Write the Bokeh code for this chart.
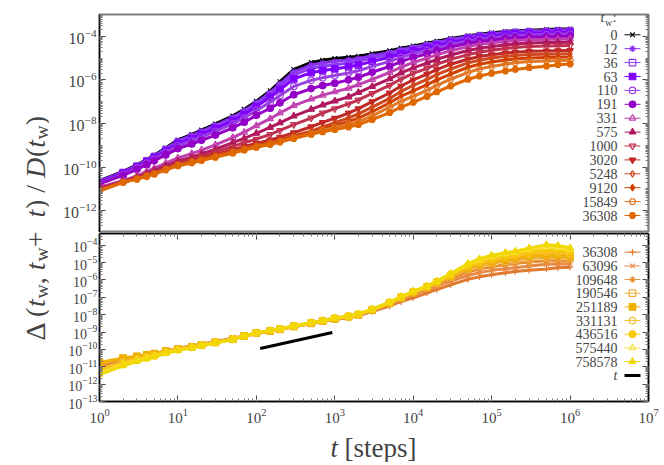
from bokeh.plotting import figure
from bokeh.models import (Range1d, LinearScale, LogAxis, FixedTicker, LogTickFormatter,
                          CustomJSTickFormatter, Label)
from bokeh.layouts import row, column
from bokeh.embed import file_html
from bokeh.resources import INLINE

# ---------------- data: log10 of Delta(tw, tw+t) / D(tw) ----------------
t_steps = [1, 2, 3, 4, 5, 7, 10, 15, 20, 30, 50, 70, 100, 150, 200, 300, 500, 700,
           1e3, 1.5e3, 2e3, 3e3, 5e3, 7e3, 1e4, 1.5e4, 2e4, 3e4, 5e4, 7e4,
           1e5, 1.5e5, 2e5, 3e5, 5e5, 7e5, 1e6]

top_tw_labels = ["0", "12", "36", "63", "110", "191", "331", "575", "1000",
                 "3020", "5248", "9120", "15849", "36308"]
top_tw0 = [-10.62, -10.20, -9.90, -9.65, -9.45, -9.12, -8.75, -8.50, -8.30, -8.02, -7.65, -7.35, -6.98, -6.50, -6.08, -5.52, -5.20, -5.10, -5.02, -4.96, -4.91, -4.80, -4.66, -4.55, -4.44, -4.32, -4.23, -4.10, -3.97, -3.90, -3.84, -3.78, -3.75, -3.72, -3.69, -3.67, -3.66]
top_tw12 = [-10.64, -10.22, -9.93, -9.68, -9.48, -9.16, -8.80, -8.55, -8.36, -8.08, -7.72, -7.42, -7.05, -6.58, -6.18, -5.63, -5.32, -5.22, -5.15, -5.08, -5.02, -4.89, -4.74, -4.62, -4.50, -4.38, -4.28, -4.15, -4.01, -3.94, -3.88, -3.82, -3.78, -3.75, -3.73, -3.71, -3.70]
top_tw36 = [-10.66, -10.25, -9.96, -9.72, -9.52, -9.21, -8.86, -8.62, -8.43, -8.15, -7.80, -7.50, -7.13, -6.68, -6.30, -5.77, -5.47, -5.37, -5.30, -5.22, -5.15, -5.00, -4.84, -4.71, -4.58, -4.45, -4.35, -4.21, -4.07, -4.00, -3.93, -3.87, -3.83, -3.80, -3.78, -3.77, -3.76]
top_tw63 = [-10.68, -10.28, -9.99, -9.76, -9.56, -9.26, -8.92, -8.69, -8.50, -8.23, -7.88, -7.59, -7.22, -6.80, -6.45, -5.95, -5.67, -5.57, -5.50, -5.40, -5.32, -5.15, -4.96, -4.81, -4.67, -4.53, -4.43, -4.28, -4.13, -4.06, -3.99, -3.93, -3.89, -3.86, -3.84, -3.83, -3.82]
top_tw110 = [-10.72, -10.33, -10.04, -9.82, -9.63, -9.34, -9.02, -8.80, -8.62, -8.36, -8.02, -7.74, -7.40, -7.02, -6.72, -6.30, -6.02, -5.90, -5.80, -5.68, -5.58, -5.38, -5.15, -4.97, -4.80, -4.65, -4.53, -4.37, -4.21, -4.13, -4.07, -4.01, -3.97, -3.94, -3.92, -3.91, -3.90]
top_tw191 = [-10.77, -10.38, -10.10, -9.89, -9.71, -9.44, -9.15, -8.94, -8.77, -8.53, -8.20, -7.94, -7.62, -7.30, -7.05, -6.68, -6.40, -6.26, -6.15, -6.00, -5.88, -5.65, -5.38, -5.16, -4.97, -4.80, -4.66, -4.49, -4.32, -4.24, -4.17, -4.11, -4.07, -4.04, -4.02, -4.01, -4.00]
top_tw331 = [-10.92, -10.62, -10.40, -10.20, -10.05, -9.82, -9.58, -9.38, -9.22, -8.98, -8.65, -8.40, -8.10, -7.78, -7.52, -7.18, -6.88, -6.70, -6.55, -6.38, -6.22, -5.98, -5.66, -5.42, -5.20, -5.00, -4.85, -4.66, -4.47, -4.37, -4.30, -4.24, -4.19, -4.16, -4.14, -4.13, -4.12]
top_tw575 = [-10.98, -10.66, -10.46, -10.29, -10.15, -9.94, -9.72, -9.54, -9.40, -9.18, -8.88, -8.68, -8.45, -8.18, -7.97, -7.66, -7.35, -7.15, -6.97, -6.78, -6.58, -6.30, -5.95, -5.68, -5.45, -5.23, -5.06, -4.86, -4.65, -4.55, -4.47, -4.40, -4.35, -4.31, -4.29, -4.28, -4.27]
top_tw1000 = [-11.00, -10.68, -10.50, -10.34, -10.22, -10.02, -9.82, -9.64, -9.50, -9.30, -9.05, -8.88, -8.72, -8.50, -8.32, -8.05, -7.75, -7.52, -7.32, -7.10, -6.92, -6.62, -6.25, -5.96, -5.70, -5.47, -5.29, -5.06, -4.84, -4.73, -4.64, -4.56, -4.51, -4.47, -4.45, -4.43, -4.42]
top_tw3020 = [-11.03, -10.68, -10.52, -10.38, -10.27, -10.08, -9.87, -9.71, -9.59, -9.42, -9.20, -9.05, -8.92, -8.76, -8.63, -8.42, -8.15, -7.95, -7.76, -7.52, -7.32, -7.00, -6.60, -6.28, -6.00, -5.74, -5.53, -5.28, -5.05, -4.93, -4.85, -4.77, -4.73, -4.69, -4.67, -4.66, -4.65]
top_tw5248 = [-11.05, -10.69, -10.53, -10.40, -10.29, -10.10, -9.89, -9.74, -9.63, -9.47, -9.28, -9.13, -9.00, -8.86, -8.75, -8.56, -8.35, -8.16, -7.96, -7.74, -7.56, -7.25, -6.85, -6.53, -6.25, -5.98, -5.76, -5.50, -5.22, -5.10, -5.00, -4.92, -4.88, -4.84, -4.82, -4.81, -4.80]
top_tw9120 = [-11.07, -10.69, -10.54, -10.41, -10.30, -10.11, -9.91, -9.77, -9.66, -9.51, -9.32, -9.17, -9.04, -8.91, -8.80, -8.62, -8.43, -8.26, -8.09, -7.90, -7.75, -7.46, -7.05, -6.75, -6.50, -6.22, -6.00, -5.73, -5.42, -5.28, -5.18, -5.09, -5.04, -5.00, -4.97, -4.96, -4.95]
top_tw15849 = [-11.08, -10.70, -10.55, -10.42, -10.31, -10.12, -9.92, -9.79, -9.68, -9.53, -9.34, -9.20, -9.07, -8.94, -8.83, -8.66, -8.47, -8.32, -8.18, -8.03, -7.92, -7.65, -7.25, -6.98, -6.75, -6.48, -6.25, -5.97, -5.65, -5.50, -5.38, -5.28, -5.21, -5.16, -5.13, -5.11, -5.10]
top_tw36308 = [-11.10, -10.70, -10.55, -10.43, -10.32, -10.13, -9.94, -9.81, -9.70, -9.55, -9.36, -9.22, -9.09, -8.96, -8.85, -8.69, -8.50, -8.38, -8.28, -8.16, -8.05, -7.82, -7.50, -7.25, -7.03, -6.76, -6.55, -6.28, -5.97, -5.82, -5.70, -5.59, -5.52, -5.44, -5.37, -5.30, -5.27]

bot_tw_labels = ["36308", "63096", "109648", "190546", "251189", "331131",
                 "436516", "575440", "758578"]
bot_tw36308 = top_tw36308
bot_tw63096 = [-11.00, -10.62, -10.48, -10.37, -10.28, -10.11, -9.95, -9.83, -9.72, -9.57, -9.40, -9.24, -9.08, -8.96, -8.87, -8.70, -8.52, -8.40, -8.28, -8.15, -8.05, -7.80, -7.42, -7.13, -6.85, -6.58, -6.35, -6.06, -5.75, -5.58, -5.45, -5.36, -5.30, -5.20, -5.10, -5.08, -5.08]
bot_tw109648 = [-10.90, -10.58, -10.45, -10.35, -10.27, -10.11, -9.96, -9.84, -9.73, -9.58, -9.40, -9.23, -9.07, -8.95, -8.86, -8.69, -8.51, -8.39, -8.26, -8.13, -8.03, -7.76, -7.38, -7.08, -6.78, -6.50, -6.25, -5.93, -5.55, -5.38, -5.25, -5.13, -5.05, -4.97, -4.90, -4.90, -4.92]
bot_tw190546 = [-10.80, -10.52, -10.42, -10.33, -10.25, -10.10, -9.97, -9.85, -9.74, -9.59, -9.41, -9.23, -9.07, -8.94, -8.85, -8.68, -8.50, -8.38, -8.24, -8.12, -8.02, -7.74, -7.35, -7.04, -6.74, -6.44, -6.18, -5.83, -5.38, -5.18, -5.05, -4.93, -4.85, -4.77, -4.70, -4.71, -4.75]
bot_tw251189 = [-10.75, -10.50, -10.40, -10.32, -10.24, -10.10, -9.98, -9.86, -9.75, -9.60, -9.41, -9.23, -9.06, -8.94, -8.84, -8.67, -8.49, -8.37, -8.23, -8.11, -8.00, -7.72, -7.33, -7.02, -6.72, -6.42, -6.15, -5.78, -5.30, -5.08, -4.95, -4.82, -4.72, -4.62, -4.55, -4.57, -4.62]
bot_tw331131 = [-11.15, -10.75, -10.55, -10.43, -10.33, -10.16, -10.00, -9.87, -9.76, -9.60, -9.42, -9.23, -9.06, -8.93, -8.84, -8.67, -8.49, -8.36, -8.22, -8.10, -7.99, -7.71, -7.31, -7.00, -6.70, -6.40, -6.12, -5.73, -5.22, -4.99, -4.85, -4.70, -4.60, -4.50, -4.40, -4.43, -4.50]
bot_tw436516 = [-11.25, -10.82, -10.60, -10.47, -10.36, -10.18, -10.02, -9.88, -9.77, -9.61, -9.42, -9.23, -9.05, -8.93, -8.83, -8.66, -8.48, -8.35, -8.21, -8.09, -7.98, -7.70, -7.30, -6.98, -6.68, -6.38, -6.10, -5.69, -5.16, -4.91, -4.75, -4.60, -4.50, -4.38, -4.25, -4.28, -4.35]
bot_tw575440 = [-11.35, -10.88, -10.65, -10.51, -10.40, -10.21, -10.04, -9.90, -9.78, -9.62, -9.43, -9.23, -9.05, -8.92, -8.82, -8.65, -8.47, -8.34, -8.20, -8.08, -7.97, -7.69, -7.29, -6.97, -6.67, -6.36, -6.08, -5.66, -5.10, -4.84, -4.65, -4.50, -4.42, -4.25, -4.10, -4.13, -4.25]
bot_tw758578 = [-11.45, -10.95, -10.70, -10.55, -10.44, -10.24, -10.06, -9.91, -9.80, -9.63, -9.44, -9.23, -9.04, -8.92, -8.81, -8.64, -8.46, -8.33, -8.19, -8.07, -7.96, -7.68, -7.28, -6.96, -6.66, -6.35, -6.06, -5.63, -5.06, -4.78, -4.58, -4.43, -4.35, -4.17, -3.98, -4.02, -4.15]

ref_t = [112, 930]                 # guide line labelled "t"
ref_value = [1.12e-10, 9.3e-10]

# ticks
x_major = [1e0, 1e1, 1e2, 1e3, 1e4, 1e5, 1e6, 1e7]
top_y_major = [1e-12, 1e-10, 1e-8, 1e-6, 1e-4]
bot_y_major = [1e-13, 1e-12, 1e-11, 1e-10, 1e-9, 1e-8, 1e-7, 1e-6, 1e-5, 1e-4]

# ---------------- styles ----------------
top_series = [top_tw0, top_tw12, top_tw36, top_tw63, top_tw110, top_tw191, top_tw331,
              top_tw575, top_tw1000, top_tw3020, top_tw5248, top_tw9120, top_tw15849, top_tw36308]
top_styles = [("#000000", "x", True), ("#8a2cf0", "asterisk", True), ("#8c3cf0", "square", False),
              ("#8000ff", "square", True), ("#9a40e0", "circle", False), ("#9400c8", "circle", True),
              ("#c040b0", "triangle", False), ("#b01860", "triangle", True),
              ("#c03050", "inverted_triangle", False), ("#c02828", "inverted_triangle", True),
              ("#d04820", "diamond", False), ("#d04000", "diamond", True),
              ("#e07828", "hex", False), ("#e06800", "hex", True)]
bot_series = [bot_tw36308, bot_tw63096, bot_tw109648, bot_tw190546, bot_tw251189,
              bot_tw331131, bot_tw436516, bot_tw575440, bot_tw758578]
bot_styles = [("#e07a30", "cross", True), ("#e88a45", "x", True), ("#e89030", "asterisk", True),
              ("#f0b040", "square", False), ("#f0b000", "square", True), ("#f8c030", "circle", False),
              ("#f8c800", "circle", True), ("#f8e040", "triangle", False), ("#f0d800", "triangle", True)]

FONT = "Liberation Serif"
LEFT, RIGHT = 51, 14
FIG_W = 614
TOP_FH, BOT_FH = 218, 168           # frame heights (px)
BOT_B = 25                          # space for x tick labels
XLAB_H = 36
FRAME_W = FIG_W - LEFT - RIGHT
YLAB_W, YLAB_CANVAS = 48, 300


def minor_list(lo, hi):
    return [k * 10.0 ** e for e in range(lo, hi + 1) for k in range(1, 10)]


def style_axis(ax, majors, minors, font_size, labels=True, standoff=3, color="black"):
    ax.ticker = FixedTicker(ticks=majors, minor_ticks=minors)
    ax.major_tick_in = 6
    ax.major_tick_out = 0
    ax.minor_tick_in = 3
    ax.minor_tick_out = 0
    ax.major_tick_line_color = "#444444"
    ax.minor_tick_line_color = "#777777"
    ax.axis_line_color = color
    ax.axis_line_width = 1.5
    ax.major_label_text_font = FONT
    ax.major_label_text_font_size = font_size
    ax.major_label_standoff = standoff
    if labels:
        ax.formatter = LogTickFormatter()
    else:
        ax.formatter = CustomJSTickFormatter(code="return ''")
        ax.major_label_standoff = 0


def draw(p, xs, logs, color, marker, filled):
    ys = [10 ** v for v in logs]
    p.line(xs, ys, line_color=color, line_width=3)
    p.scatter(xs, ys, marker=marker, size=6.5, line_color=color,
              fill_color=color if filled else None, line_width=1.2)


def add_px_space(p, w, h):
    p.extra_x_ranges["px"] = Range1d(0, w)
    p.extra_y_ranges["px"] = Range1d(0, h)
    p.extra_x_scales["px"] = LinearScale()
    p.extra_y_scales["px"] = LinearScale()


def key_entry(p, label, y_px, color, marker=None, filled=True, style="normal", lw=1):
    # legend key: sample line + marker, label right-aligned to its left
    p.line([525, 541], [y_px, y_px], line_color=color, line_width=lw,
           x_range_name="px", y_range_name="px")
    if marker is not None:
        p.scatter([533], [y_px], marker=marker, size=6.5, line_color=color,
                  fill_color=color if filled else None, line_width=1.2,
                  x_range_name="px", y_range_name="px")
    p.add_layout(Label(x=518, y=y_px, x_units="screen", y_units="screen", text=label,
                       text_font=FONT, text_font_size="14px", text_font_style=style,
                       text_align="right", text_baseline="middle"))


xr = Range1d(1, 1e7)

# ---------------- top panel ----------------
top = figure(width=FIG_W, height=14 + TOP_FH, x_axis_type="log", y_axis_type="log",
             x_range=xr, y_range=Range1d(1e-13, 1e-3), x_axis_location=None,
             toolbar_location=None, output_backend="svg",
             min_border_left=LEFT, min_border_right=RIGHT, min_border_top=14, min_border_bottom=0)
top.grid.visible = False
top.outline_line_color = "#808080"
top.outline_line_width = 2
yminors_top = minor_list(-13, -4)
style_axis(top.yaxis[0], top_y_major, yminors_top, "16px", standoff=3)
ra = LogAxis()
style_axis(ra, top_y_major, yminors_top, "16px", labels=False, color="#808080")
top.add_layout(ra, "right")
add_px_space(top, FRAME_W, TOP_FH)

for vals, (c, m, f) in zip(top_series, top_styles):
    draw(top, t_steps, vals, c, m, f)

for i, (lab, (c, m, f)) in enumerate(zip(top_tw_labels, top_styles)):
    key_entry(top, lab, 197.7 - 13.9 * i, c, m, f)
top.add_layout(Label(x=501, y=208, x_units="screen", y_units="screen", text="t",
                     text_font=FONT, text_font_size="14px", text_font_style="italic"))
top.add_layout(Label(x=505.5, y=205, x_units="screen", y_units="screen", text="w",
                     text_font=FONT, text_font_size="10px"))
top.add_layout(Label(x=513, y=208, x_units="screen", y_units="screen", text=":",
                     text_font=FONT, text_font_size="14px"))

# ---------------- bottom panel ----------------
bot = figure(width=FIG_W, height=1 + BOT_FH + BOT_B, x_axis_type="log", y_axis_type="log",
             x_range=xr, y_range=Range1d(1e-13, 4.7e-4),
             toolbar_location=None, output_backend="svg",
             min_border_left=LEFT, min_border_right=RIGHT, min_border_top=1, min_border_bottom=BOT_B)
bot.grid.visible = False
bot.outline_line_color = "black"
bot.outline_line_width = 1.5
xminors = minor_list(0, 6)
yminors_bot = minor_list(-13, -4)
style_axis(bot.xaxis[0], x_major, xminors, "15px", standoff=7)
style_axis(bot.yaxis[0], bot_y_major, yminors_bot, "14px", standoff=2)
ta = LogAxis()
style_axis(ta, x_major, xminors, "14px", labels=False)
bot.add_layout(ta, "above")
ra2 = LogAxis()
style_axis(ra2, bot_y_major, yminors_bot, "14px", labels=False)
bot.add_layout(ra2, "right")
add_px_space(bot, FRAME_W, BOT_FH)

for vals, (c, m, f) in zip(bot_series, bot_styles):
    draw(bot, t_steps, vals, c, m, f)
bot.line(ref_t, ref_value, line_color="black", line_width=3)

for i, (lab, (c, m, f)) in enumerate(zip(bot_tw_labels, bot_styles)):
    key_entry(bot, lab, 149.3 - 13.67 * i, c, m, f)
key_entry(bot, "t", 26, "black", None, style="italic", lw=3)

# ---------------- x title strip (frame aligned with the panels) ----------------
xlab = figure(width=FIG_W, height=XLAB_H, x_range=Range1d(0, FRAME_W), y_range=Range1d(0, XLAB_H),
              x_axis_location=None, y_axis_location=None, toolbar_location=None,
              output_backend="svg", min_border_left=LEFT, min_border_right=RIGHT,
              min_border_top=0, min_border_bottom=0, outline_line_color=None)
xlab.grid.visible = False
xlab.add_layout(Label(x=231, y=15, x_units="screen", y_units="screen", text="t",
                      text_font=FONT, text_font_size="27px", text_font_style="italic",
                      text_baseline="alphabetic"))
xlab.add_layout(Label(x=245, y=15, x_units="screen", y_units="screen", text="[steps]",
                      text_font=FONT, text_font_size="27px", text_baseline="alphabetic"))

# ---------------- y title strip (rotated, pieced) ----------------
# the canvas is wider than its slot (negative right margin) so the rotated text never touches an edge
YH = 14 + TOP_FH + 1 + BOT_FH + BOT_B + XLAB_H
ylab = figure(width=YLAB_CANVAS, height=YH, x_range=Range1d(0, YLAB_CANVAS), y_range=Range1d(0, YH),
              x_axis_location=None, y_axis_location=None, toolbar_location=None,
              output_backend="svg", min_border=0, outline_line_color=None)
ylab.margin = (0, YLAB_W - YLAB_CANVAS, 0, 0)
ylab.border_fill_alpha = 0
ylab.background_fill_alpha = 0
ylab.grid.visible = False
pieces = [("Δ (", 0, "normal", 28, 0), ("t", 33.4, "italic", 28, 0), ("w", 42, "normal", 19.6, 6),
          (", ", 56.2, "normal", 28, 0), ("t", 70.2, "italic", 28, 0), ("w", 79, "normal", 19.6, 6),
          (" + ", 93.2, "normal", 28, 0), ("t", 123, "italic", 28, 0), (") / ", 131.5, "normal", 28, 0),
          ("D", 162.6, "italic", 28, 0), ("(", 183.5, "normal", 28, 0), ("t", 192.8, "italic", 28, 0),
          ("w", 201, "normal", 19.6, 6), (")", 215.2, "normal", 28, 0)]
y_start = YH - 340
for txt, off, st, fs, dx in pieces:
    ylab.add_layout(Label(x=35 + dx, y=y_start + off, x_units="screen", y_units="screen", text=txt,
                          angle=1.5708, text_font=FONT, text_font_size=f"{fs}px",
                          text_font_style=st, text_align="left", text_baseline="alphabetic"))

layout = row(ylab, column(top, bot, xlab))
open("out.html", "w").write(file_html(layout, INLINE))
